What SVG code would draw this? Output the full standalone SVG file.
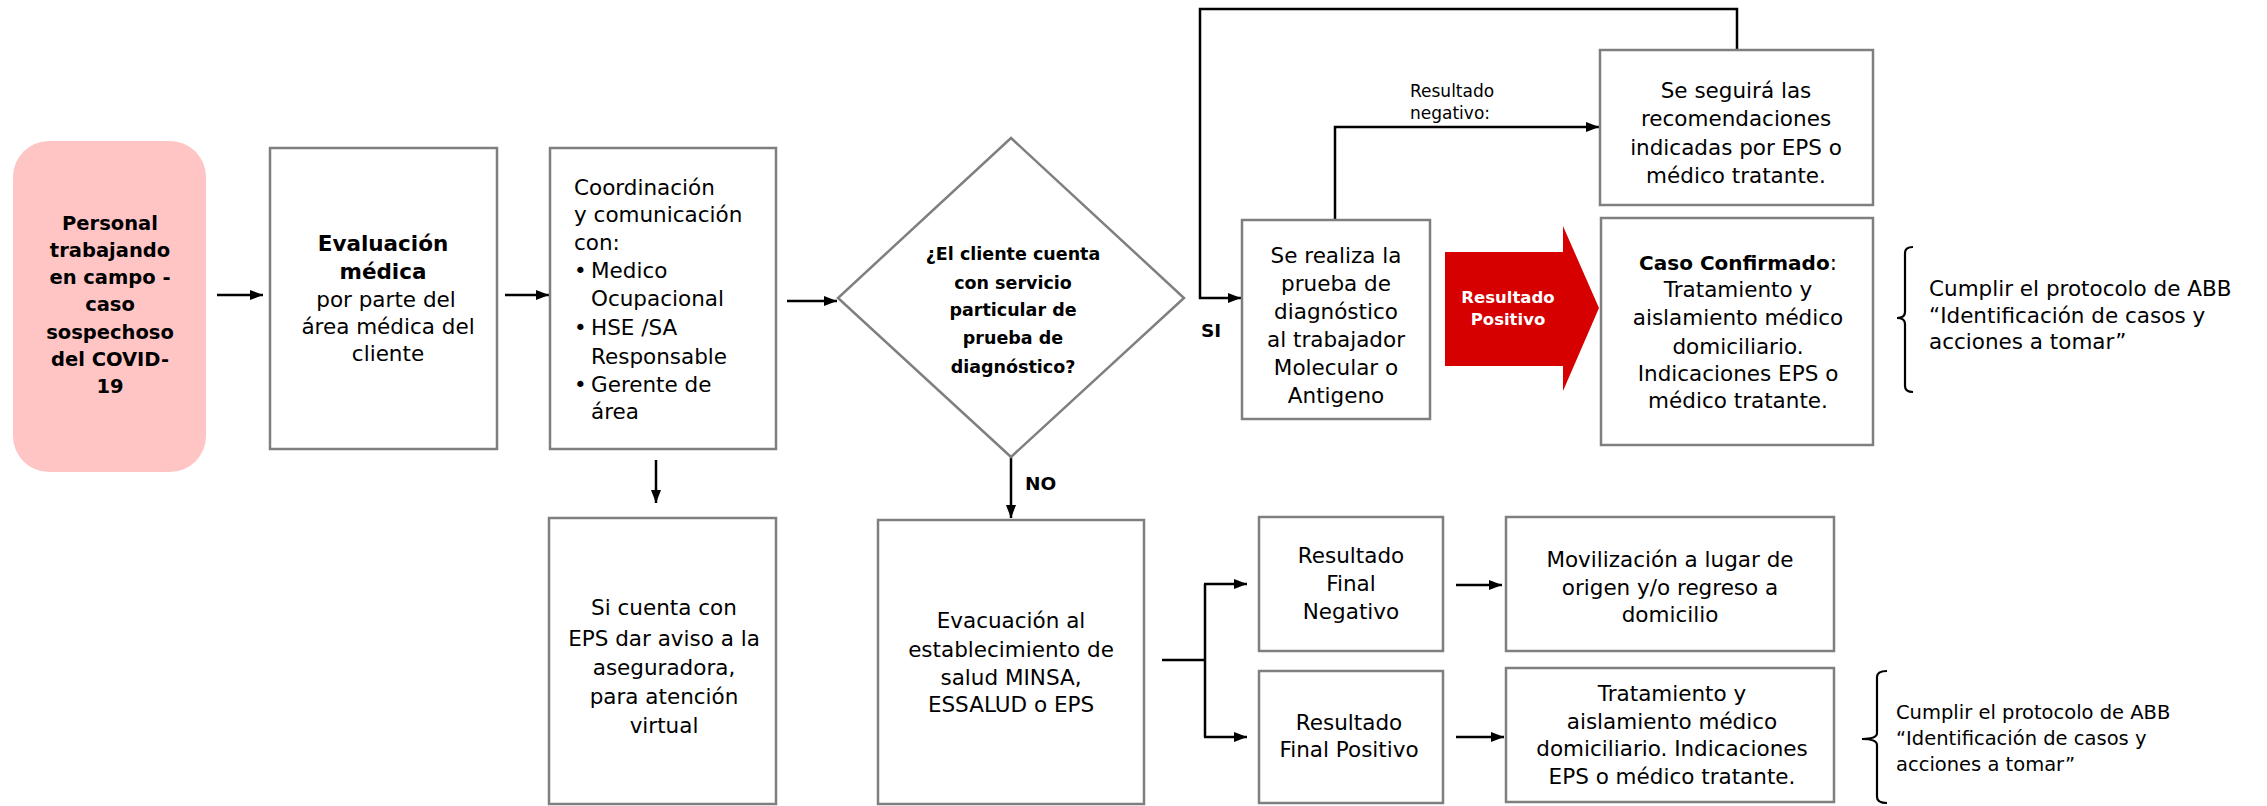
<svg xmlns="http://www.w3.org/2000/svg" width="2267" height="806" viewBox="0 0 2267 806">
<defs>
<style>
.box{fill:#ffffff;stroke:#7f7f7f;stroke-width:2.5}
.t{font-family:"DejaVu Sans","Open Sans",sans-serif;font-size:21.5px;fill:#000;text-anchor:middle}
.b{font-weight:bold}
.pk{font-family:"DejaVu Sans","Open Sans",sans-serif;font-size:19.5px;font-weight:bold;fill:#000;text-anchor:middle}
.dm{font-family:"DejaVu Sans","Open Sans",sans-serif;font-size:17.5px;font-weight:bold;fill:#000;text-anchor:middle}
.lft{text-anchor:start}
.lbl{font-family:"DejaVu Sans","Open Sans",sans-serif;font-size:17px;fill:#000}
.yn{font-family:"DejaVu Sans","Open Sans",sans-serif;font-size:18.5px;font-weight:bold;fill:#000}
.wt{font-family:"DejaVu Sans","Open Sans",sans-serif;font-size:16.5px;font-weight:bold;fill:#fff;text-anchor:middle}
.br{font-family:"DejaVu Sans","Open Sans",sans-serif;fill:#000}
.ln{fill:none;stroke:#000;stroke-width:2.5}
.brk{fill:none;stroke:#000;stroke-width:2.2}
</style>
<marker id="ah" viewBox="0 0 13 10" refX="13" refY="5" markerWidth="13" markerHeight="10" markerUnits="userSpaceOnUse" orient="auto">
<path d="M0,0 L13,5 L0,10 Z" fill="#000"/>
</marker>
</defs>
<rect width="2267" height="806" fill="#ffffff"/>

<g id="connectors">
<path class="ln" d="M217,295 H263" marker-end="url(#ah)"/>
<path class="ln" d="M505,295 H549" marker-end="url(#ah)"/>
<path class="ln" d="M787,301 H837" marker-end="url(#ah)"/>
<path class="ln" d="M656,460 V503" stroke-width="2" marker-end="url(#ah)"/>
<path class="ln" d="M1011,457 V518" marker-end="url(#ah)"/>
<path class="ln" d="M1737,50 V9 H1200 V298 H1241" marker-end="url(#ah)"/>
<path class="ln" d="M1335,220 V127 H1599" marker-end="url(#ah)"/>
<path class="ln" d="M1162,660 H1205"/>
<path class="ln" d="M1205,584 V737"/>
<path class="ln" d="M1204,584 H1247" marker-end="url(#ah)"/>
<path class="ln" d="M1204,737 H1247" marker-end="url(#ah)"/>
<path class="ln" d="M1456,585 H1502" marker-end="url(#ah)"/>
<path class="ln" d="M1456,737 H1504" marker-end="url(#ah)"/>
<text class="lbl" x="1410" y="97">Resultado</text>
<text class="lbl" x="1410" y="119">negativo:</text>
<text class="yn" x="1201" y="337">SI</text>
<text class="yn" x="1025" y="490">NO</text>
</g>

<g id="n-personal">
<rect x="13" y="141" width="193" height="331" rx="36" ry="36" fill="#ffc5c5"/>
<text class="pk" x="110" y="230">Personal</text>
<text class="pk" x="110" y="257">trabajando</text>
<text class="pk" x="110" y="284">en campo -</text>
<text class="pk" x="110" y="311">caso</text>
<text class="pk" x="110" y="339">sospechoso</text>
<text class="pk" x="110" y="366">del COVID-</text>
<text class="pk" x="110" y="393">19</text>
</g>

<g id="n-evaluacion">
<rect class="box" x="270" y="148" width="227" height="301"/>
<text class="t b" x="383" y="251" font-size="19">Evaluación</text>
<text class="t b" x="383" y="279" font-size="19">médica</text>
<text class="t" x="386" y="307">por parte del</text>
<text class="t" x="388" y="334">área médica  del</text>
<text class="t" x="388" y="361">cliente</text>
</g>

<g id="n-coordinacion">
<rect class="box" x="550" y="148" width="226" height="301"/>
<text class="t lft" x="574" y="195">Coordinación</text>
<text class="t lft" x="574" y="222">y comunicación</text>
<text class="t lft" x="574" y="250">con:</text>
<text class="t lft" x="574" y="278">•</text>
<text class="t lft" x="591" y="278">Medico</text>
<text class="t lft" x="591" y="306">Ocupacional</text>
<text class="t lft" x="574" y="335">•</text>
<text class="t lft" x="591" y="335">HSE /SA</text>
<text class="t lft" x="591" y="364">Responsable</text>
<text class="t lft" x="574" y="392">•</text>
<text class="t lft" x="591" y="392">Gerente de</text>
<text class="t lft" x="591" y="419">área</text>
</g>

<g id="n-decision">
<polygon points="1011,138 1184,298 1011,457 838,298" fill="#ffffff" stroke="#7f7f7f" stroke-width="2.5"/>
<text class="dm" x="1013" y="260">¿El cliente cuenta</text>
<text class="dm" x="1013" y="289">con servicio</text>
<text class="dm" x="1013" y="316">particular  de</text>
<text class="dm" x="1013" y="344">prueba  de</text>
<text class="dm" x="1013" y="373">diagnóstico?</text>
</g>

<g id="n-prueba">
<rect class="box" x="1242" y="220" width="188" height="199"/>
<text class="t" x="1336" y="263">Se realiza la</text>
<text class="t" x="1336" y="291">prueba de</text>
<text class="t" x="1336" y="319">diagnóstico</text>
<text class="t" x="1336" y="347">al trabajador</text>
<text class="t" x="1336" y="375">Molecular  o</text>
<text class="t" x="1336" y="403">Antigeno</text>
</g>

<g id="n-positivo">
<polygon points="1445,252 1563,252 1563,226 1599,308 1563,391 1563,366 1445,366" fill="#d60000"/>
<text class="wt" x="1508" y="303">Resultado</text>
<text class="wt" x="1508" y="325">Positivo</text>
</g>

<g id="n-seguira">
<rect class="box" x="1600" y="50" width="273" height="155"/>
<text class="t" x="1736" y="98">Se seguirá las</text>
<text class="t" x="1736" y="126">recomendaciones</text>
<text class="t" x="1736" y="155">indicadas por EPS o</text>
<text class="t" x="1736" y="183">médico tratante.</text>
</g>

<g id="n-confirmado">
<rect class="box" x="1601" y="218" width="272" height="227"/>
<text class="t" x="1738" y="270"><tspan font-weight="bold" font-size="20">Caso Confirmado</tspan>:</text>
<text class="t" x="1738" y="297">Tratamiento  y</text>
<text class="t" x="1738" y="325">aislamiento  médico</text>
<text class="t" x="1738" y="354">domiciliario.</text>
<text class="t" x="1738" y="381">Indicaciones  EPS o</text>
<text class="t" x="1738" y="408">médico  tratante.</text>
</g>

<g id="n-protocolo1">
<path class="brk" d="M1913,247 Q1905,247 1905,253 V312 Q1905,318 1897,318 Q1905,318 1905,324 V386 Q1905,392 1913,392"/>
<text class="br" font-size="21.5" x="1929" y="296">Cumplir el  protocolo de  ABB</text>
<text class="br" font-size="21.5" x="1929" y="323">“Identificación  de casos y</text>
<text class="br" font-size="21.5" x="1929" y="349">acciones a tomar”</text>
</g>

<g id="n-eps">
<rect class="box" x="549" y="518" width="227" height="286"/>
<text class="t" x="664" y="615">Si cuenta con</text>
<text class="t" x="664" y="646">EPS dar aviso a la</text>
<text class="t" x="664" y="675">aseguradora,</text>
<text class="t" x="664" y="704">para atención</text>
<text class="t" x="664" y="733">virtual</text>
</g>

<g id="n-evacuacion">
<rect class="box" x="878" y="520" width="266" height="284"/>
<text class="t" x="1011" y="628">Evacuación al</text>
<text class="t" x="1011" y="657">establecimiento de</text>
<text class="t" x="1011" y="685">salud MINSA,</text>
<text class="t" x="1011" y="712">ESSALUD  o EPS</text>
</g>

<g id="n-final-neg">
<rect class="box" x="1259" y="517" width="184" height="134"/>
<text class="t" x="1351" y="563">Resultado</text>
<text class="t" x="1351" y="591">Final</text>
<text class="t" x="1351" y="619">Negativo</text>
</g>

<g id="n-final-pos">
<rect class="box" x="1259" y="671" width="184" height="132"/>
<text class="t" x="1349" y="730">Resultado</text>
<text class="t" x="1349" y="757">Final Positivo</text>
</g>

<g id="n-movilizacion">
<rect class="box" x="1506" y="517" width="328" height="134"/>
<text class="t" x="1670" y="567">Movilización a lugar de</text>
<text class="t" x="1670" y="595">origen y/o regreso a</text>
<text class="t" x="1670" y="622">domicilio</text>
</g>

<g id="n-tratamiento">
<rect class="box" x="1506" y="668" width="328" height="134"/>
<text class="t" x="1672" y="701">Tratamiento  y</text>
<text class="t" x="1672" y="729">aislamiento  médico</text>
<text class="t" x="1672" y="756">domiciliario.  Indicaciones</text>
<text class="t" x="1672" y="784">EPS o médico  tratante.</text>
</g>

<g id="n-protocolo2">
<path class="brk" d="M1887,671 Q1877,671 1877,677 V733 Q1877,739 1862,739 Q1877,739 1877,745 V797 Q1877,803 1887,803"/>
<text class="br" font-size="19.5" x="1896" y="719">Cumplir el  protocolo de  ABB</text>
<text class="br" font-size="19.5" x="1896" y="745">“Identificación  de casos y</text>
<text class="br" font-size="19.5" x="1896" y="771">acciones a tomar”</text>
</g>
</svg>
